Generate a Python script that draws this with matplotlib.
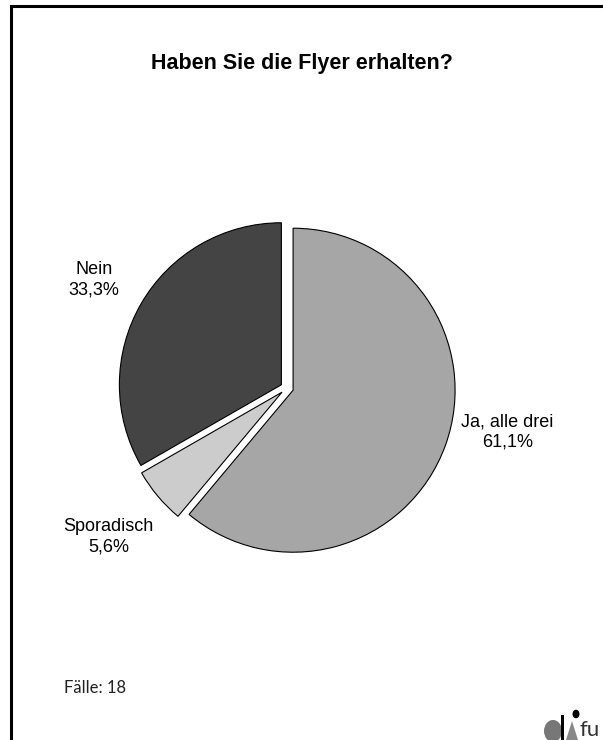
import numpy as np
import matplotlib
matplotlib.use("Agg")
import matplotlib.pyplot as plt
from matplotlib.patches import Rectangle, Circle, Polygon

plt.rcParams["font.family"] = ["Liberation Sans", "DejaVu Sans"]

# Daten
categories = ["Ja, alle drei", "Sporadisch", "Nein"]
shares = [61.1, 5.6, 33.3]
share_labels = ["61,1%", "5,6%", "33,3%"]
colors = ["#a6a6a6", "#cccccc", "#444444"]
title = "Haben Sie die Flyer erhalten?"
cases_text = "Fälle: 18"

W, H = 603, 740
fig = plt.figure(figsize=(W / 100, H / 100), dpi=100)

# Rahmen (nur links und oben sichtbar)
fig.add_artist(Rectangle((10.5 / W, -0.1), 1.2, (H - 6) / H + 0.1,
                         transform=fig.transFigure, fill=False,
                         edgecolor="black", linewidth=2.2))

# Kreisdiagramm: Mittelpunkt ~ (287, 388) px, Radius ~ 162 px
R_PX = 162
CX, CY = 287, 388
LIM = 1.5
size = 2 * LIM * R_PX
ax = fig.add_axes([(CX - size / 2) / W, (H - CY - size / 2) / H, size / W, size / H])
wedges, texts = ax.pie(shares, colors=colors, startangle=90, counterclock=False,
                       explode=[0.04] * 3,
                       wedgeprops=dict(edgecolor="black", linewidth=0.8))
ax.set_xlim(-LIM, LIM)
ax.set_ylim(-LIM, LIM)
ax.set_aspect("equal")
ax.axis("off")

# Beschriftungen
label_pos = [(1.36, -0.27), (-1.10, -0.92), (-1.19, 0.67)]
for cat, lab, (x, y) in zip(categories, share_labels, label_pos):
    ax.text(x, y, f"{cat}\n{lab}", ha="center", va="center",
            fontsize=13, linespacing=1.25)

fig.text(0.5, 1 - 63 / H, title, ha="center", va="center",
         fontsize=15.5, fontweight="bold")
fig.text(64 / W, 1 - 688 / H, cases_text, ha="left", va="center",
         fontsize=12, family=["Lato", "DejaVu Sans"], color="#222222")

# Logo (angedeutet)
fig.add_artist(Circle((553 / W, 1 - 731 / H), 9 / W, transform=fig.transFigure,
                      facecolor="#777777", edgecolor="none"))
fig.add_artist(Rectangle((561 / W, 0), 2.5 / W, 25 / H, transform=fig.transFigure,
                         facecolor="black", edgecolor="none"))
fig.add_artist(Polygon([(566 / W, 0), (578 / W, 0), (572 / W, 19 / H)],
                       transform=fig.transFigure, facecolor="#888888", edgecolor="none"))
fig.add_artist(Circle((576 / W, 1 - 714 / H), 3.5 / W, transform=fig.transFigure,
                      facecolor="black", edgecolor="none"))
fig.text(580 / W, 0.0, "fu", ha="left", va="bottom", fontsize=16, color="#333333",
         family=["Lato", "DejaVu Sans"])

fig.savefig("out.png", dpi=100)
